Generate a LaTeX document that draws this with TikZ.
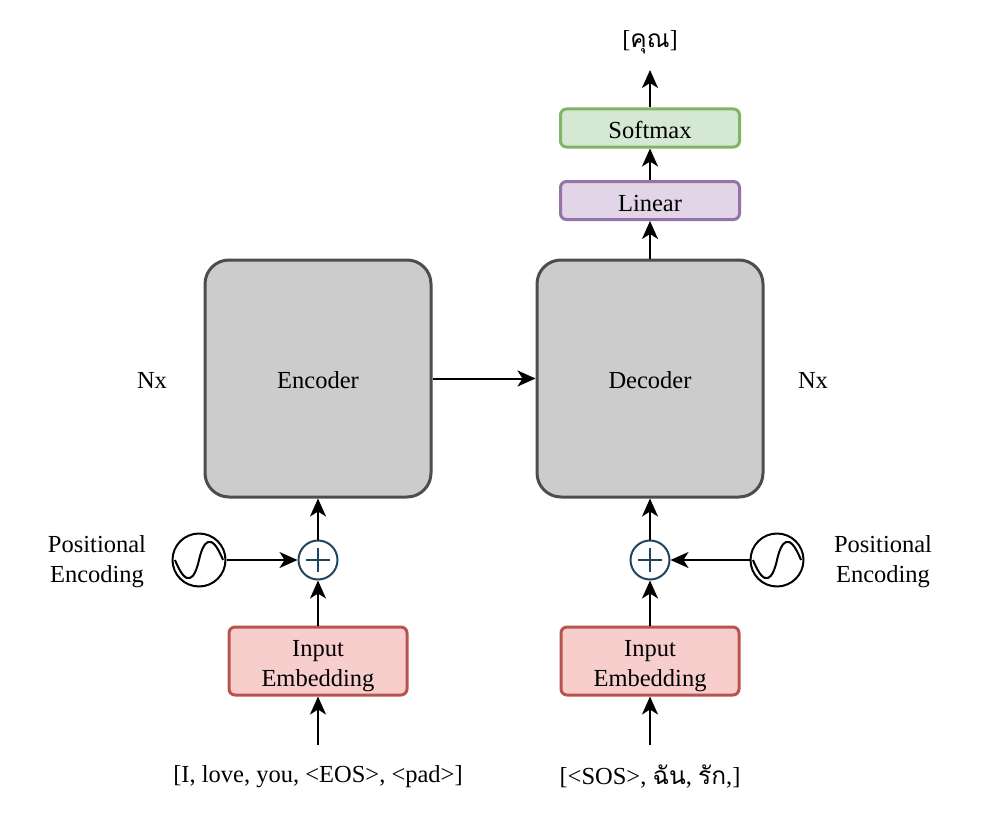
\documentclass[tikz,border=0pt]{standalone}
\usepackage{fontspec}
\setmainfont{Liberation Serif}
\newfontfamily\thaifont[Script=Thai]{Loma}
\usetikzlibrary{arrows.meta}
\definecolor{boxgray}{HTML}{CCCCCC}
\definecolor{boxline}{HTML}{4D4D4D}
\definecolor{linfill}{HTML}{E1D5E7}
\definecolor{linline}{HTML}{9673A6}
\definecolor{smfill}{HTML}{D5E8D4}
\definecolor{smline}{HTML}{82B366}
\definecolor{embfill}{HTML}{F8CECC}
\definecolor{embline}{HTML}{B85450}
\definecolor{plusline}{HTML}{23445D}
\newcommand\txtdown[2]{\raisebox{0pt}[\dimexpr\height+#1\relax][\depth]{#2}}
\begin{document}
\begin{tikzpicture}[x=1pt,y=-1pt,
  every node/.style={font=\fontsize{24.5}{30}\selectfont},
  big/.style={draw=boxline,fill=boxgray,line width=3pt,rounded corners=24pt,minimum width=226pt,minimum height=237pt},
  small/.style={line width=3pt,rounded corners=6pt,minimum width=179pt,minimum height=38pt,inner sep=0pt},
  emb/.style={draw=embline,fill=embfill,line width=3pt,rounded corners=6pt,minimum width=178pt,minimum height=66pt,align=center,inner sep=0pt,font=\fontsize{24.5}{30}\selectfont},
  plus/.style={circle,draw=plusline,line width=2pt,minimum size=39pt,inner sep=0pt},
  wave/.style={circle,draw=black,line width=2pt,minimum size=53pt,inner sep=0pt},
  arr/.style={-{Stealth[length=18pt,width=16pt,inset=5pt]},line width=2pt},
  lbl/.style={align=center,font=\fontsize{24.5}{30}\selectfont}
]
\useasboundingbox (0,0) rectangle (990,840);
% main blocks
\node[big] (enc) at (318,378.5) {\txtdown{4pt}{Encoder}};
\node[big] (dec) at (650,378.5) {\txtdown{4pt}{Decoder}};
\node[small,draw=linline,fill=linfill] (lin) at (650,200.5) {\txtdown{6pt}{Linear}};
\node[small,draw=smline,fill=smfill] (sm) at (650,128) {\txtdown{4pt}{Softmax}};
\node (out) at (650,42) {[{\thaifont คุณ}]};
\coordinate (outtip) at (650,70);
\node (nxl) at (152,380) {Nx};
\node (nxr) at (813,380) {Nx};
% plus circles
\node[plus] (pl) at (318,560) {};
\node[plus] (pr) at (650,560) {};
\foreach \p in {pl,pr}{
  \draw[plusline,line width=2pt] ([yshift=-12pt]\p.center) -- ([yshift=12pt]\p.center);
  \draw[plusline,line width=2pt] ([xshift=-12pt]\p.center) -- ([xshift=12pt]\p.center);
}
% sine sources
\node[wave] (wl) at (199,560) {};
\node[wave] (wr) at (777,560) {};
\foreach \w in {wl,wr}{
  \draw[line width=2pt] ([xshift=-24pt]\w.center) .. controls ([xshift=-12pt,yshift=-30pt]\w.center) and ([xshift=-4pt,yshift=-18pt]\w.center) .. (\w.center)
    .. controls ([xshift=4pt,yshift=18pt]\w.center) and ([xshift=12pt,yshift=30pt]\w.center) .. ([xshift=24pt]\w.center);
}
\node[lbl] (pel) at (97,562) {Positional\\Encoding};
\node[lbl] (per) at (883,562) {Positional\\Encoding};
% embeddings
\node[emb] (el) at (318,661) {\txtdown{8pt}{\begin{tabular}{@{}c@{}}Input\\Embedding\end{tabular}}};
\node[emb] (er) at (650,661) {\txtdown{8pt}{\begin{tabular}{@{}c@{}}Input\\Embedding\end{tabular}}};
% inputs
\node (inl) at (318,777) {[I, love, you, <EOS>, <pad>]};
\node (inr) at (650,777) {[<SOS>, {\thaifont ฉัน}, {\thaifont รัก},]};
\coordinate (il) at (318,745);
\coordinate (ir) at (650,745);
% arrows
\draw[arr] (il) -- (el.south);
\draw[arr] (ir) -- (er.south);
\draw[arr] (el.north) -- (pl.south);
\draw[arr] (er.north) -- (pr.south);
\draw[arr] (pl.north) -- (enc.south);
\draw[arr] (pr.north) -- (dec.south);
\draw[arr] (wl.east) -- (pl.west);
\draw[arr] (wr.west) -- (pr.east);
\draw[arr] (enc.east) -- (dec.west);
\draw[arr] (dec.north) -- (lin.south);
\draw[arr] (lin.north) -- (sm.south);
\draw[arr] (sm.north) -- (outtip);
\end{tikzpicture}
\end{document}
